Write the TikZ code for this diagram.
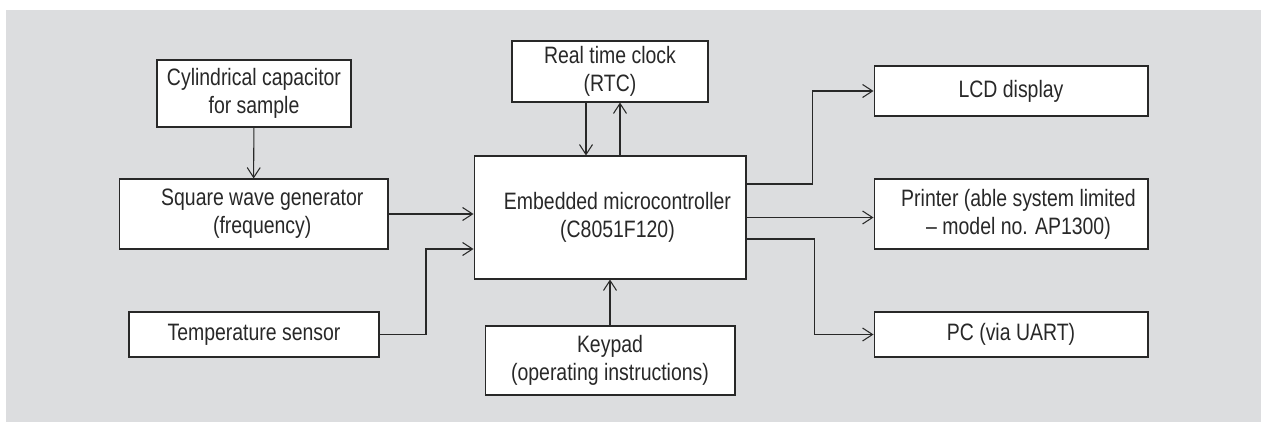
\documentclass[tikz,border=0pt]{standalone}
\usepackage{fontspec}
\setmainfont{Liberation Sans}[FakeStretch=0.82]
\usepackage{tikz}
\usetikzlibrary{positioning,calc,arrows.meta}

\definecolor{panel}{RGB}{220,221,223}
\definecolor{ink}{RGB}{40,40,40}

\tikzset{
    block/.style={draw=ink, fill=white, line width=0.6pt, align=center, inner sep=0pt,
        font=\fontsize{13.5}{16}\selectfont, text=ink},
    arr/.style={draw=ink, line width=0.6pt, -{Straight Barb[length=0.2cm,width=0.26cm]}}
}

\begin{document}
\begin{tikzpicture}[x=0.02cm, y=-0.02cm]
    % frame and panel
    \useasboundingbox (0,0) rectangle (1261,422);
    \fill[panel] (6,10) rectangle (1261,422);

    % blocks
    \node[block, minimum width=3.88cm, minimum height=1.34cm] (cap) at (254,93.5) {Cylindrical capacitor\\for sample};
    \node[block, minimum width=5.38cm, minimum height=1.40cm] (sq) at (253.5,214) {\hspace*{0.35cm}Square wave generator\\\hspace*{0.35cm}(frequency)};
    \node[block, minimum width=5.00cm, minimum height=0.90cm] (temp) at (254,334.5) {Temperature sensor};
    \node[block, minimum width=3.92cm, minimum height=1.22cm] (rtc) at (610,71.5) {Real time clock\\(RTC)};
    \node[block, minimum width=5.44cm, minimum height=2.46cm] (mcu) at (610,217.5) {\hspace*{0.3cm}Embedded microcontroller\\\hspace*{0.3cm}(C8051F120)};
    \node[block, minimum width=5.00cm, minimum height=1.38cm] (key) at (610,360.5) {Keypad\\(operating instructions)};
    \node[block, minimum width=5.48cm, minimum height=1.00cm] (lcd) at (1011,91) {LCD display};
    \node[block, minimum width=5.48cm, minimum height=1.40cm] (prn) at (1011,214) {\hspace*{0.3cm}Printer (able system limited\\\hspace*{0.3cm}-- model no. AP1300)};
    \node[block, minimum width=5.48cm, minimum height=0.90cm] (pc) at (1011,334.5) {PC (via UART)};

    % inputs
    \coordinate (tin) at (426,249);
    \draw[arr] (cap) -- (sq);
    \draw[arr] (sq.east) -- (sq.east -| mcu.west);
    \draw[arr] (temp.east) -| (tin) -- (tin -| mcu.west);
    \draw[arr] ([xshift=-0.48cm]rtc.south) -- ([xshift=-0.48cm]rtc.south |- mcu.north);
    \draw[arr] ([xshift=0.2cm]rtc.south |- mcu.north) -- ([xshift=0.2cm]rtc.south);
    \draw[arr] (key) -- (mcu);

    % outputs
    \draw[arr] ([yshift=0.67cm]mcu.east) -| ([xshift=-1.22cm]lcd.west) -- (lcd.west);
    \draw[arr] (mcu.east) -- (mcu.east -| prn.west);
    \draw[arr] ([yshift=-0.43cm]mcu.east) -| ([xshift=-1.18cm]pc.west) -- (pc.west);
\end{tikzpicture}
\end{document}
